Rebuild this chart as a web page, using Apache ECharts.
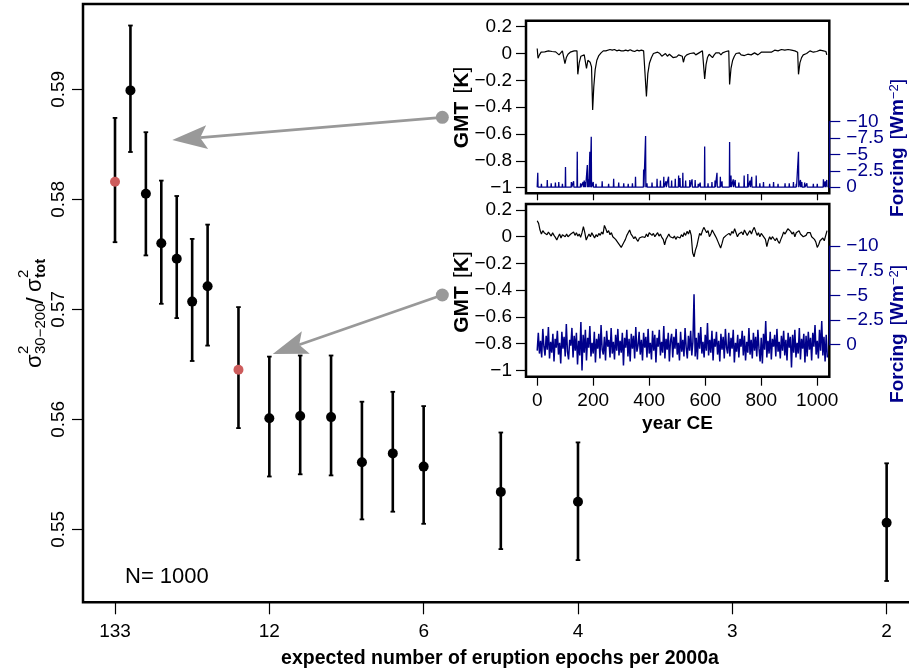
<!DOCTYPE html>
<html><head><meta charset="utf-8">
<script src="https://cdn.jsdelivr.net/npm/echarts@6/dist/echarts.min.js"></script>
<style>html,body{margin:0;padding:0;background:#fff}#c{width:909px;height:672px}</style>
</head><body><div id="c"></div>
<script>
const FONT = '"Liberation Sans", Arial, Helvetica, sans-serif';
const NAVY = '#00008B';
const RED = '#cd5c5c';
const GRAY = '#999999';

// ---- main panel ----
const xPos = [0,1,2,3,4,5,6,8,10,12,14,16,18,20,25,30,50];
const xTickPos = [0,10,20,30,40,50];
const xTickLabels = ['133','12','6','4','3','2'];
const yTicks = [0.55,0.56,0.57,0.58,0.59];
const ratio   = [0.5816,0.5899,0.5805,0.5760,0.5746,0.5707,0.5721,0.5645,0.5601,0.5603,0.5602,0.5561,0.5569,0.5557,0.5534,0.5525,0.5506];
const upperCI = [0.5874,0.5958,0.5861,0.5817,0.5803,0.5764,0.5777,0.5702,0.5657,0.5658,0.5658,0.5616,0.5625,0.5612,0.5588,0.5579,0.5560];
const lowerCI = [0.5761,0.5843,0.5749,0.5705,0.5692,0.5653,0.5667,0.5592,0.5548,0.5550,0.5549,0.5509,0.5516,0.5505,0.5482,0.5472,0.5453];
const redIdx = [0,7];
const arrowFrom = [[21.21,0.58745],[21.21,0.57130]];
const arrowTo   = [[3.71,0.58539],[10.22,0.56594]];

// ---- insets ----
const yearTicks = [0,200,400,600,800,1000];
const gmtTicks = [0.2,0,-0.2,-0.4,-0.6,-0.8,-1];
const forcingTicks = [-10,-7.5,-5,-2.5,0];

const gmtUpper = [[0,0.037],[3,-0.035],[8,-0.01],[14,0.01],[20,0.015],[27,0.012],[33,0.025],[40,0.02],[47,0.01],[53,0.015],[60,0.005],[66,0.012],[72,0.0],[78,-0.01],[84,0.0],[90,0.02],[96,0.02],[99,-0.075],[104,-0.03],[110,-0.005],[118,0.01],[125,0.02],[132,0.02],[138,0.015],[142,0.02],[145,-0.155],[150,-0.07],[156,-0.02],[162,-0.015],[168,-0.01],[172,-0.02],[176,-0.11],[181,-0.05],[186,-0.05],[189,-0.065],[194,-0.1],[198,-0.42],[202,-0.25],[207,-0.12],[213,-0.05],[220,-0.015],[228,0.005],[236,0.02],[245,0.02],[252,0.03],[260,0.03],[268,0.025],[276,0.03],[284,0.02],[292,0.025],[300,0.02],[308,0.02],[316,0.025],[324,0.02],[332,0.028],[340,0.02],[348,0.015],[356,0.025],[364,0.02],[372,0.025],[380,0.02],[386,0.01],[390,-0.32],[395,-0.15],[401,-0.07],[408,-0.03],[415,0.0],[422,0.01],[430,0.01],[438,0.0],[445,-0.02],[452,-0.01],[458,0.0],[465,-0.02],[472,-0.005],[478,-0.005],[485,-0.03],[492,-0.02],[498,-0.025],[505,-0.01],[512,-0.02],[518,-0.02],[522,-0.065],[527,-0.025],[534,-0.01],[540,-0.015],[546,0.0],[553,-0.005],[560,0.005],[566,-0.01],[572,-0.005],[578,0.005],[584,0.01],[590,0.02],[594,0.015],[598,-0.19],[603,-0.08],[608,-0.03],[614,-0.005],[620,-0.01],[626,-0.03],[632,-0.01],[638,0.005],[644,0.01],[650,0.005],[656,-0.01],[662,0.005],[668,0.01],[674,0.015],[680,0.015],[684,0.02],[687,-0.23],[692,-0.11],[698,-0.05],[704,-0.02],[710,0.0],[716,0.01],[722,0.005],[728,-0.01],[734,0.0],[740,-0.015],[746,-0.01],[752,-0.005],[758,-0.015],[764,-0.01],[770,0.0],[776,0.005],[782,-0.005],[788,-0.01],[794,0.0],[800,0.01],[806,0.005],[812,0.01],[818,0.0],[824,0.01],[830,0.015],[836,0.01],[842,0.02],[848,0.025],[854,0.025],[860,0.02],[866,0.025],[872,0.03],[878,0.03],[884,0.025],[890,0.03],[896,0.03],[902,0.028],[908,0.025],[914,0.03],[920,0.02],[926,0.015],[930,0.01],[933,-0.155],[938,-0.07],[944,-0.03],[950,-0.01],[956,0.0],[962,0.0],[968,0.01],[974,0.02],[980,0.015],[986,0.01],[992,0.02],[998,0.015],[1004,0.02],[1010,0.025],[1016,0.02],[1022,0.02],[1028,0.025],[1031,0.015],[1034,-0.01]];

const forcingUpperSpikes = [[2,-2.2],[15,-0.5],[36,-1.1],[50,-0.6],[65,-0.7],[77,-0.8],[90,-0.5],[101,-3.1],[122,-0.8],[130,-0.9],[143,-5.4],[155,-0.6],[164,-0.8],[168,-1.0],[172,-0.8],[179,-3.4],[183,-1.2],[188,-5.4],[193,-7.7],[200,-0.8],[210,-0.5],[232,-0.9],[255,-0.5],[273,-1.3],[291,-0.7],[309,-0.6],[325,-0.5],[340,-0.6],[351,-1.6],[380,-2.7],[387,-7.8],[392,-0.6],[410,-0.7],[428,-1.3],[440,-1.0],[452,-1.6],[460,-0.9],[469,-1.6],[480,-1.0],[493,-1.3],[505,-1.8],[510,-1.4],[520,-2.2],[530,-1.0],[545,-1.1],[553,-1.2],[564,-1.1],[575,-0.5],[582,-0.7],[598,-6.2],[610,-0.6],[624,-0.8],[635,-1.0],[642,-2.2],[654,-1.6],[660,-0.9],[687,-6.9],[692,-1.8],[700,-1.2],[707,-1.1],[720,-0.7],[739,-1.8],[752,-2.0],[760,-1.0],[766,-1.6],[782,-1.8],[795,-0.6],[808,-0.8],[830,-0.5],[844,-0.8],[860,-0.5],[885,-0.6],[900,-0.6],[915,-0.8],[925,-0.5],[933,-5.4],[940,-1.1],[945,-0.8],[955,-0.7],[963,-0.6],[986,-0.5],[1000,-0.5],[1022,-1.2],[1028,-0.9],[1034,-1.1]];

const gmtLowerStep = 5;
const gmtLower = [
0.12,0.10,0.05,0.02,0.045,0.03,0.04,0.015,0.035,0.02,
0.005,0.03,0.01,-0.005,-0.025,0.0,0.02,-0.01,0.015,0.025,
0.0,0.02,0.0,-0.01,0.02,0.01,0.035,0.01,0.03,0.005,
0.02,-0.005,0.03,0.075,0.03,-0.025,0.0,0.02,0.0,0.03,
0.01,-0.01,0.015,0.0,0.025,0.01,0.035,0.02,0.085,0.06,
0.03,0.045,0.015,0.03,0.0,-0.01,-0.02,-0.035,-0.05,-0.06,
-0.08,-0.06,-0.04,-0.02,0.01,0.03,0.05,0.02,0.005,-0.015,
0.0,-0.02,-0.035,-0.01,-0.02,0.0,0.012,-0.005,0.02,0.0,
0.03,0.02,0.01,0.025,0.0,0.015,0.03,0.005,0.02,-0.005,
-0.02,-0.06,-0.02,0.0,0.02,0.0,0.01,-0.01,0.005,-0.02,
0.0,0.01,-0.01,0.015,0.0,0.03,0.01,0.04,0.02,0.05,
0.01,-0.12,-0.15,-0.1,-0.07,-0.02,0.025,0.01,0.045,0.07,
0.05,0.03,0.045,0.0,0.02,0.05,0.03,0.01,-0.01,-0.035,
-0.06,-0.085,-0.05,-0.01,-0.015,0.01,0.0,0.025,0.01,0.04,
0.025,0.06,0.03,0.0,0.02,0.01,0.035,0.015,0.05,0.03,
0.01,0.03,0.045,0.02,0.05,0.07,0.04,0.01,0.03,0.0,
0.025,0.01,0.02,-0.02,-0.075,-0.03,0.0,-0.02,0.0,-0.015,
-0.03,-0.01,-0.035,-0.05,-0.02,0.005,0.035,0.02,0.04,0.06,
0.07,0.04,0.02,0.035,0.0,0.03,0.02,0.045,0.02,0.01,
0.0,-0.012,0.01,0.03,0.02,0.03,0.0,0.01,-0.02,-0.04,
-0.08,-0.06,-0.03,-0.04,-0.01,-0.03,-0.025,0.045];

const forcingLowerStep = 4;
const forcingLower = [
0.6,-1.2,0.9,-0.4,1.3,-1.6,0.2,1.1,-0.9,0.5,-1.8,1.4,-0.3,0.8,-1.1,1.7,-0.6,0.3,-1.4,1.0,
-0.2,1.9,-1.3,0.4,-0.8,1.2,-2.1,0.7,1.5,-0.5,0.1,-1.7,1.3,-0.9,0.6,-1.2,2.0,-0.4,1.1,-2.3,
2.6,-1.0,0.8,-1.5,1.6,-0.7,0.3,-1.9,1.2,-0.2,0.9,-1.3,1.8,-0.6,0.4,-1.1,1.4,-2.0,0.5,1.0,
-0.8,1.6,-1.4,0.2,-0.5,1.3,-1.7,0.9,-0.3,1.5,-1.0,0.6,-1.6,1.1,-0.4,0.8,-1.2,2.1,-0.7,0.3,
-1.5,1.2,-0.6,1.7,-1.1,0.4,-0.9,1.4,-1.8,0.7,0.1,-1.3,1.0,-0.5,1.6,-1.2,0.3,-0.8,1.3,-1.6,
0.9,-0.2,1.5,-1.4,0.6,-1.0,1.8,-0.7,0.2,-1.5,1.1,-0.3,0.8,-1.9,1.4,-0.6,0.5,-1.2,1.7,-0.4,
-1.1,1.3,-0.8,0.4,-1.6,1.0,-0.2,1.6,-1.3,0.7,-0.5,1.2,-1.7,0.3,1.4,-0.9,0.6,-1.4,1.1,-0.3,
-5.1,1.2,-0.7,1.5,-1.2,0.4,-1.8,0.9,-0.3,1.3,-1.0,0.6,-2.2,1.1,-0.5,0.8,-1.4,1.6,-0.6,0.2,
-1.3,1.0,-0.4,1.7,-1.1,0.5,-0.8,1.4,-1.6,0.3,0.9,-1.2,1.2,-0.7,0.4,-1.5,1.8,-0.2,0.7,-1.0,
1.3,-0.6,0.2,-1.4,1.1,-0.9,1.6,-0.3,0.8,-1.7,1.0,-0.5,1.4,-1.2,0.6,-0.8,1.2,-1.5,0.4,1.7,
-0.7,1.9,-1.1,0.5,-2.4,1.3,-0.4,0.9,-1.3,1.5,-0.6,0.2,-1.0,1.2,-1.6,0.7,-0.3,1.4,-0.9,0.6,
-1.4,1.1,-0.5,1.6,-1.2,0.3,-0.8,2.3,-1.0,0.8,-1.5,1.3,-0.2,0.9,-1.7,1.5,-0.6,0.4,-1.1,1.8,
-0.9,1.2,-1.3,0.5,-0.7,1.6,-1.2,0.2,-2.0,1.0,-0.4,1.4,-1.5,0.6,-2.4,1.1,-0.8,1.7,-1.0,1.3];

// ---- build series data ----
const minusFmt = v => (v < 0 ? '\u2212' : '') + String(Math.abs(v));
const forcingUpperLine = [[0, 0]];
forcingUpperSpikes.forEach(([yr, v]) => { forcingUpperLine.push([yr - 1, 0], [yr, v], [yr + 1, 0]); });
forcingUpperLine.push([1035, 0]);
const gmtLowerLine = gmtLower.map((v, i) => [i * gmtLowerStep, v]);
const forcingLowerLine = forcingLower.map((v, i) => [i * forcingLowerStep, v]);
// split the dense right-axis ticks over two overlaid axes so none is culled
const forcingTicksEven = forcingTicks.filter((v, i) => i % 2 === 0);
const forcingTicksOdd = forcingTicks.filter((v, i) => i % 2 === 1);

const chart = echarts.init(document.getElementById('c'), null, {renderer: 'canvas'});

const insetLeft = 526, insetWidth = 303.3;
const boxStyle = {show: true, borderColor: '#000', borderWidth: 2.5, backgroundColor: '#fff', outerBoundsMode: 'none', containLabel: false};
const lbl = (extra) => Object.assign({fontFamily: FONT, fontSize: 19, color: '#000', showMinLabel: true, showMaxLabel: true, hideOverlap: false}, extra);
const hiddenX = (g) => ({gridIndex: g, type: 'value', min: -40, max: 1043, show: false});
const noLine = {show: false, onZero: false};

function insetX(g, showLabels) {
  return {
    gridIndex: g, type: 'value', min: -40, max: 1043,
    axisLine: noLine, splitLine: {show: false},
    axisTick: {show: true, customValues: yearTicks, length: showLabels ? 9 : 7, lineStyle: {color: '#000', width: 1.2}},
    axisLabel: lbl({show: showLabels, customValues: yearTicks, margin: 15, formatter: v => String(v)})
  };
}
function gmtY(g, min, max) {
  return {
    gridIndex: g, type: 'value', min: min, max: max,
    axisLine: noLine, splitLine: {show: false},
    axisTick: {show: true, customValues: gmtTicks, length: 10, lineStyle: {color: '#000', width: 1.2}},
    axisLabel: lbl({customValues: gmtTicks, margin: 14, formatter: minusFmt})
  };
}
function forcingY(g, ticks, withLine) {
  return {
    gridIndex: g, type: 'value', position: 'right', inverse: true, min: -10, max: 0,
    axisLine: {show: withLine, onZero: false, lineStyle: {color: NAVY, width: 1.2}}, splitLine: {show: false},
    axisTick: {show: true, customValues: ticks, length: 11, lineStyle: {color: NAVY, width: 1.2}},
    axisLabel: lbl({customValues: ticks, margin: 17, color: NAVY, formatter: minusFmt})
  };
}

// y-label pieces (local coords of rotated group)
function part(text, lx, base, fs, weight) {
  return {type: 'text', x: lx, y: base - 0.35 * fs,
    style: {text: text, fill: '#000', align: 'left', verticalAlign: 'middle',
      font: (weight || 'normal') + ' ' + fs + 'px ' + FONT}};
}

const option = {
  animation: false,
  backgroundColor: '#fff',
  grid: [
    {left: 83, top: 4, width: 870, height: 598.3, show: true, borderColor: '#000', borderWidth: 2.5, backgroundColor: 'transparent', outerBoundsMode: 'none', containLabel: false},
    Object.assign({left: insetLeft, top: 20.7, width: insetWidth, height: 172.6}, boxStyle),
    Object.assign({left: insetLeft, top: 204, width: insetWidth, height: 172.7}, boxStyle),
    {left: insetLeft, top: 121.7, width: insetWidth, height: 65.5, show: false, outerBoundsMode: 'none', containLabel: false},
    {left: insetLeft, top: 246, width: insetWidth, height: 98.7, show: false, outerBoundsMode: 'none', containLabel: false}
  ],
  xAxis: [
    {
      gridIndex: 0, type: 'value', min: -2.074, max: 54.30,
      axisLine: noLine, splitLine: {show: false},
      axisTick: {show: true, customValues: xTickPos, length: 12, lineStyle: {color: '#000', width: 1.2}},
      axisLabel: lbl({customValues: xTickPos, margin: 20, formatter: v => xTickLabels[xTickPos.indexOf(v)]})
    },
    insetX(1, false),
    insetX(2, true),
    hiddenX(3),
    hiddenX(4)
  ],
  yAxis: [
    {
      gridIndex: 0, type: 'value', min: 0.543364, max: 0.597755,
      axisLine: noLine, splitLine: {show: false},
      axisTick: {show: true, customValues: yTicks, length: 11, lineStyle: {color: '#000', width: 1.2}},
      axisLabel: lbl({customValues: yTicks, rotate: 90, margin: 15, align: 'center', verticalAlign: 'bottom', formatter: v => v.toFixed(2)})
    },
    gmtY(1, -1.0417, 0.2447),
    forcingY(3, forcingTicksEven, true),
    gmtY(2, -1.0479, 0.2449),
    forcingY(4, forcingTicksEven, true),
    forcingY(3, forcingTicksOdd, false),
    forcingY(4, forcingTicksOdd, false)
  ],
  series: [
    {
      type: 'custom', xAxisIndex: 0, yAxisIndex: 0,
      data: xPos.map((x, i) => [x, lowerCI[i], upperCI[i]]),
      renderItem: (params, api) => {
        const x = api.value(0);
        const a = api.coord([x, api.value(1)]);
        const b = api.coord([x, api.value(2)]);
        const cw = 2.3;
        const st = {stroke: '#000', lineWidth: 2.6};
        const cs = {stroke: '#000', lineWidth: 1.8};
        return {type: 'group', children: [
          {type: 'line', shape: {x1: a[0], y1: a[1], x2: b[0], y2: b[1]}, style: st},
          {type: 'line', shape: {x1: a[0] - cw, y1: a[1], x2: a[0] + cw, y2: a[1]}, style: cs},
          {type: 'line', shape: {x1: b[0] - cw, y1: b[1], x2: b[0] + cw, y2: b[1]}, style: cs}
        ]};
      }
    },
    {
      type: 'scatter', xAxisIndex: 0, yAxisIndex: 0, symbol: 'circle', symbolSize: 10,
      itemStyle: {opacity: 1},
      data: xPos.map((x, i) => ({value: [x, ratio[i]], itemStyle: {color: redIdx.includes(i) ? RED : '#000', opacity: 1}}))
    },
    {
      type: 'custom', xAxisIndex: 0, yAxisIndex: 0,
      data: arrowFrom.map((f, i) => [f[0], f[1], arrowTo[i][0], arrowTo[i][1]]),
      renderItem: (params, api) => {
        const s = api.coord([api.value(0), api.value(1)]);
        const e = api.coord([api.value(2), api.value(3)]);
        const dx = e[0] - s[0], dy = e[1] - s[1], L = Math.hypot(dx, dy);
        const ux = dx / L, uy = dy / L, nx = -uy, ny = ux;
        const HL = 35, HW = 12, NOTCH = 28;
        const bx = e[0] - HL * ux, by = e[1] - HL * uy;
        const mx = e[0] - NOTCH * ux, my = e[1] - NOTCH * uy;
        return {type: 'group', children: [
          {type: 'line', shape: {x1: s[0], y1: s[1], x2: mx, y2: my}, style: {stroke: GRAY, lineWidth: 2.8}},
          {type: 'polygon', shape: {points: [[e[0], e[1]], [bx + HW * nx, by + HW * ny], [mx, my], [bx - HW * nx, by - HW * ny]]}, style: {fill: GRAY}},
          {type: 'circle', shape: {cx: s[0], cy: s[1], r: 6.5}, style: {fill: GRAY}}
        ]};
      }
    },
    {type: 'line', xAxisIndex: 1, yAxisIndex: 1, data: gmtUpper, showSymbol: false, symbol: 'none',
      lineStyle: {color: '#000', width: 1.2}},
    {type: 'line', xAxisIndex: 3, yAxisIndex: 2, data: forcingUpperLine, showSymbol: false, symbol: 'none', clip: false,
      lineStyle: {color: NAVY, width: 1.3}},
    {type: 'line', xAxisIndex: 2, yAxisIndex: 3, data: gmtLowerLine, showSymbol: false, symbol: 'none',
      lineStyle: {color: '#000', width: 1.2}},
    {type: 'line', xAxisIndex: 4, yAxisIndex: 4, data: forcingLowerLine, showSymbol: false, symbol: 'none', clip: false,
      lineStyle: {color: NAVY, width: 1.5}}
  ],
  graphic: [
    {type: 'text', x: 500, y: 659, style: {text: 'expected number of eruption epochs per 2000a', align: 'center', verticalAlign: 'middle', font: 'bold 19.5px ' + FONT, fill: '#000'}},
    {type: 'text', x: 125, y: 576.5, style: {text: 'N= 1000', align: 'left', verticalAlign: 'middle', font: '22px ' + FONT, fill: '#000'}},
    {type: 'text', x: 677.5, y: 423.5, style: {text: 'year CE', align: 'center', verticalAlign: 'middle', font: 'bold 19px ' + FONT, fill: '#000'}},
    {type: 'text', x: 462, y: 107.5, rotation: Math.PI / 2, style: {text: '{b|GMT}{sp| }{n|[}{b|K}{n|]}', align: 'center', verticalAlign: 'middle',
      rich: {b: {font: 'bold 21px ' + FONT, fill: '#000'}, n: {font: '21px ' + FONT, fill: '#000'}, sp: {font: '21px ' + FONT, width: 8}}}},
    {type: 'text', x: 462, y: 292, rotation: Math.PI / 2, style: {text: '{b|GMT}{sp| }{n|[}{b|K}{n|]}', align: 'center', verticalAlign: 'middle',
      rich: {b: {font: 'bold 21px ' + FONT, fill: '#000'}, n: {font: '21px ' + FONT, fill: '#000'}, sp: {font: '21px ' + FONT, width: 8}}}},
    {type: 'text', x: 897.5, y: 148, rotation: Math.PI / 2, style: {text: '{b|Forcing}{sp| }{n|[}{b|Wm}{s|\u22122}{n|]}', align: 'center', verticalAlign: 'middle',
      rich: {b: {font: 'bold 19px ' + FONT, fill: NAVY}, n: {font: '19px ' + FONT, fill: NAVY}, sp: {font: '19px ' + FONT, width: 8}, s: {font: '13px ' + FONT, fill: NAVY, verticalAlign: 'top'}}}},
    {type: 'text', x: 897.5, y: 334, rotation: Math.PI / 2, style: {text: '{b|Forcing}{sp| }{n|[}{b|Wm}{s|\u22122}{n|]}', align: 'center', verticalAlign: 'middle',
      rich: {b: {font: 'bold 19px ' + FONT, fill: NAVY}, n: {font: '19px ' + FONT, fill: NAVY}, sp: {font: '19px ' + FONT, width: 8}, s: {font: '13px ' + FONT, fill: NAVY, verticalAlign: 'top'}}}},
    {type: 'group', x: 43, y: 368, rotation: Math.PI / 2, children: [
      part('\u03c3', 0, 0, 22),
      part('2', 14, -14, 15),
      part('30\u2212200', 14, 3, 15),
      part('/', 64, 2, 24),
      part('\u03c3', 76, 0, 22),
      part('2', 90, -14, 15),
      part('tot', 90, 3, 15, 'bold')
    ]}
  ]
};
chart.setOption(option);
</script>
</body></html>
